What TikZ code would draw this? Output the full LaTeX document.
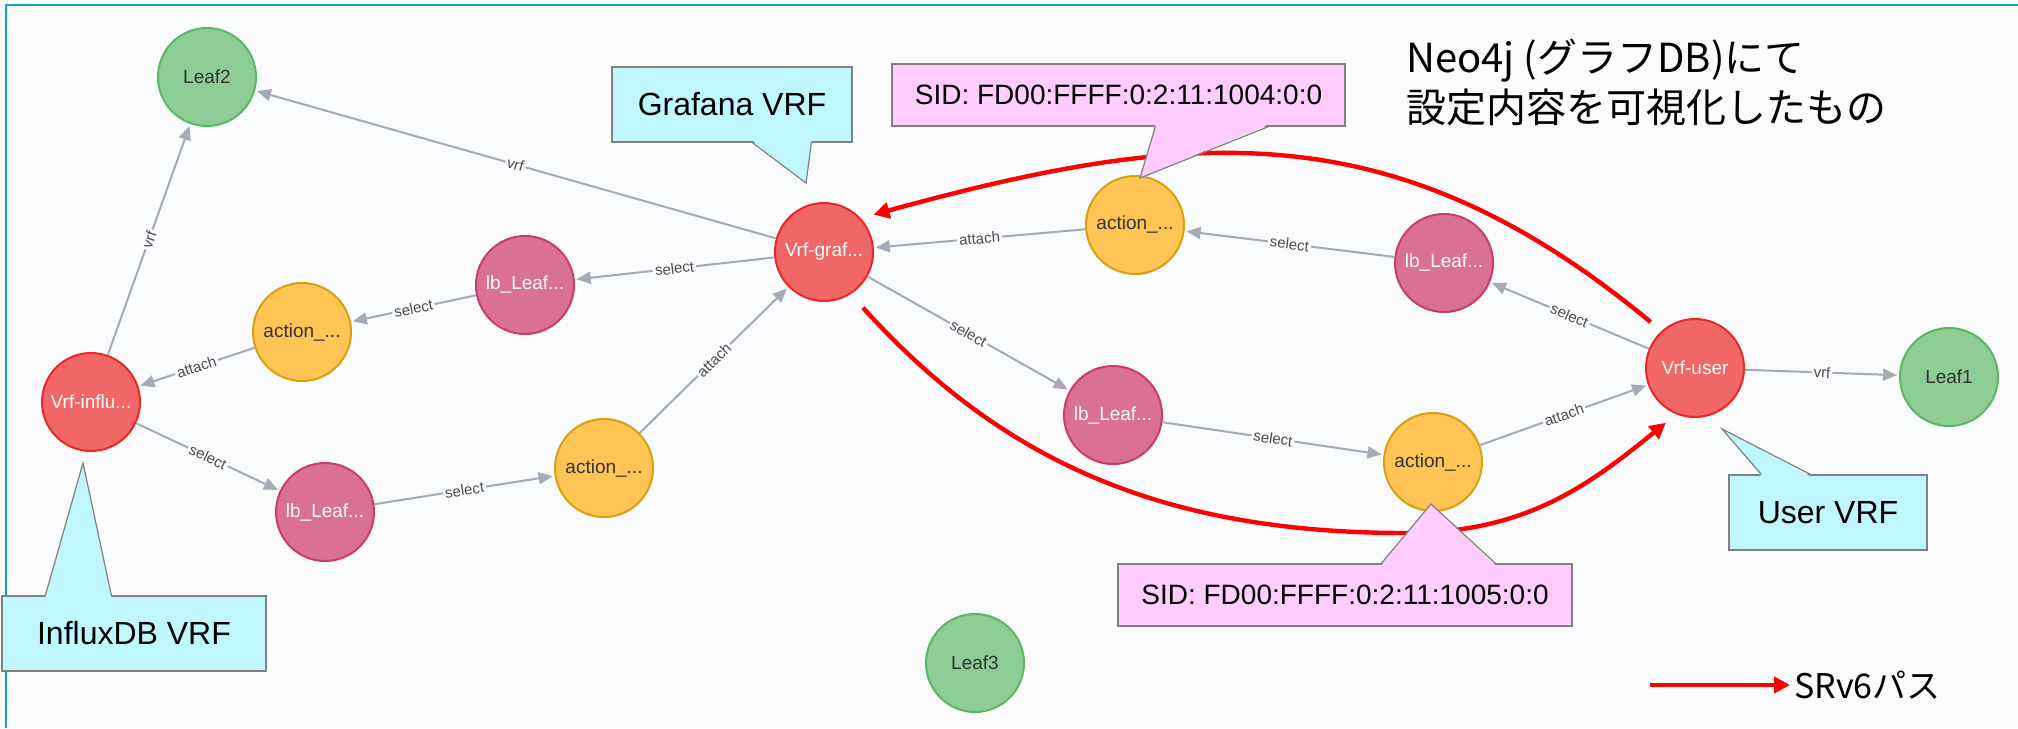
\documentclass[tikz,border=0pt]{standalone}
\usepackage{fontspec}
\setmainfont{Liberation Sans}
\newfontfamily\jpfont{Noto Sans CJK JP}
\usetikzlibrary{calc,arrows.meta}

\definecolor{bgpanel}{RGB}{249,251,253}
\definecolor{framecol}{RGB}{23,165,190}
\definecolor{leaffill}{HTML}{8DCC93}
\definecolor{leafline}{HTML}{5DB665}
\definecolor{vrffill}{HTML}{F16667}
\definecolor{vrfline}{HTML}{EB2728}
\definecolor{lbfill}{HTML}{DA7194}
\definecolor{lbline}{HTML}{CC3C6C}
\definecolor{actfill}{HTML}{FFC454}
\definecolor{actline}{HTML}{D7A013}
\definecolor{relgray}{HTML}{A5ABB6}
\definecolor{cyanfill}{RGB}{192,246,255}
\definecolor{pinkfill}{RGB}{255,204,255}
\definecolor{boxline}{RGB}{128,128,128}

\begin{document}
\begin{tikzpicture}[
  x=0.5pt, y=-0.5pt,
  gnode/.style={circle, line width=1pt, minimum size=49pt, inner sep=0pt, font=\fontsize{9.5}{11}\selectfont},
  leaf/.style={gnode, draw=leafline, fill=leaffill, text=black!80},
  vrf/.style={gnode, draw=vrfline, fill=vrffill, text=white},
  lb/.style={gnode, draw=lbline, fill=lbfill, text=white},
  act/.style={gnode, draw=actline, fill=actfill, text=black!80},
  rel/.style={draw=relgray, line width=1pt, -{Triangle[length=7pt,width=6pt]}, shorten >=1pt},
  rellabel/.style={sloped, fill=bgpanel, inner sep=1pt, text=black!70, font=\fontsize{7.5}{8}\selectfont},
  srv6/.style={draw=red, line width=2.2pt, -{Triangle[length=8pt,width=8pt]}},
  cbox/.style={draw=boxline, line width=0.6pt, inner sep=0pt, font=\fontsize{16}{19}\selectfont},
  cside/.style={draw=boxline, line width=0.6pt}
]
\useasboundingbox (0,0) rectangle (2018,728);
\fill[white] (0,0) rectangle (2018,728);
\fill[bgpanel] (6,5) rectangle (2018,728);
\draw[framecol, line width=1.3pt] (6,728) -- (6,5) -- (2018,5);

% graph nodes
\node[leaf] (leaftwo) at (207,77) {Leaf2};
\node[vrf] (vrfinflux) at (91,402) {Vrf-influ...};
\node[act] (actleft) at (302,332) {action\_...};
\node[lb] (lbleft) at (525,285) {lb\_Leaf...};
\node[vrf] (vrfgraf) at (824,252) {Vrf-graf...};
\node[act] (acttop) at (1135,225) {action\_...};
\node[lb] (lbtop) at (1444,263) {lb\_Leaf...};
\node[vrf] (vrfuser) at (1695,368) {Vrf-user};
\node[leaf] (leafone) at (1949,377) {Leaf1};
\node[lb] (lblow) at (325,512) {lb\_Leaf...};
\node[act] (actlow) at (604,468) {action\_...};
\node[lb] (lbmid) at (1113,415) {lb\_Leaf...};
\node[act] (actmid) at (1433,462) {action\_...};
\node[leaf] (leafthree) at (975,663) {Leaf3};

% relationships
\draw[rel] (vrfinflux) -- node[rellabel] {vrf} (leaftwo);
\draw[rel] (vrfgraf) -- node[rellabel] {vrf} (leaftwo);
\draw[rel] (vrfgraf) -- node[rellabel] {select} (lbleft);
\draw[rel] (lbleft) -- node[rellabel] {select} (actleft);
\draw[rel] (actleft) -- node[rellabel] {attach} (vrfinflux);
\draw[rel] (vrfinflux) -- node[rellabel] {select} (lblow);
\draw[rel] (lblow) -- node[rellabel] {select} (actlow);
\draw[rel] (actlow) -- node[rellabel] {attach} (vrfgraf);
\draw[rel] (acttop) -- node[rellabel] {attach} (vrfgraf);
\draw[rel] (lbtop) -- node[rellabel] {select} (acttop);
\draw[rel] (vrfuser) -- node[rellabel] {select} (lbtop);
\draw[rel] (vrfuser) -- node[rellabel] {vrf} (leafone);
\draw[rel] (vrfgraf) -- node[rellabel] {select} (lbmid);
\draw[rel] (lbmid) -- node[rellabel] {select} (actmid);
\draw[rel] (actmid) -- node[rellabel] {attach} (vrfuser);

% SRv6 paths
\coordinate (top start) at ($(vrfuser)+(134:32pt)$);
\coordinate (top end) at ($(vrfgraf)+(37:31pt)$);
\coordinate (low start) at ($(vrfgraf)+(-55:34pt)$);
\coordinate (low end) at ($(vrfuser)+(242:31pt)$);
\draw[srv6] (top start) .. controls (1396,111) and (1192,127) .. (top end);
\draw[srv6] (low start) .. controls (997,456) and (1155,533) .. (1405,533)
  .. controls (1525,533) and (1588,486) .. (low end);

% title
\node[anchor=west, align=left, inner sep=0pt, font=\jpfont\fontsize{20}{25}\selectfont] (title) at (1406,82)
  {Neo4j (グラフDB)にて\\設定内容を可視化したもの};

% callouts
\node[cbox, fill=cyanfill, minimum width=120pt, minimum height=37.5pt] (grafana) at (732,104.5) {Grafana VRF};
\coordinate (grafana tip) at (806,183);
\fill[cyanfill] ($(grafana.south west)+(141,-2)$) -- (grafana tip) -- ($(grafana.south west)+(200,-2)$) -- cycle;
\draw[cside] ($(grafana.south west)+(141,0)$) -- (grafana tip) -- ($(grafana.south west)+(200,0)$);

\node[cbox, fill=pinkfill, minimum width=226.5pt, minimum height=31pt, font=\fontsize{14}{17}\selectfont] (sidtop) at (1118.5,95) {SID: FD00:FFFF:0:2:11:1004:0:0};
\coordinate (sidtop tip) at (1140,178);
\fill[pinkfill] ($(sidtop.south west)+(264,-2)$) -- (sidtop tip) -- ($(sidtop.south west)+(377,-2)$) -- cycle;
\draw[cside] ($(sidtop.south west)+(264,0)$) -- (sidtop tip) -- ($(sidtop.south west)+(377,0)$);

\node[cbox, fill=cyanfill, minimum width=132pt, minimum height=37.5pt] (influx) at (134,633.5) {InfluxDB VRF};
\coordinate (influx tip) at (83,463);
\fill[cyanfill] ($(influx.north west)+(44,2)$) -- (influx tip) -- ($(influx.north west)+(110,2)$) -- cycle;
\draw[cside] ($(influx.north west)+(44,0)$) -- (influx tip) -- ($(influx.north west)+(110,0)$);

\node[cbox, fill=pinkfill, minimum width=227pt, minimum height=31pt, font=\fontsize{14}{17}\selectfont] (sidlow) at (1345,595) {SID: FD00:FFFF:0:2:11:1005:0:0};
\coordinate (sidlow tip) at (1431,504);
\fill[pinkfill] ($(sidlow.north west)+(264,2)$) -- (sidlow tip) -- ($(sidlow.north west)+(378,2)$) -- cycle;
\draw[cside] ($(sidlow.north west)+(264,0)$) -- (sidlow tip) -- ($(sidlow.north west)+(378,0)$);

\node[cbox, fill=cyanfill, minimum width=99pt, minimum height=37.5pt] (user) at (1828,512.5) {User VRF};
\coordinate (user tip) at (1722,429);
\fill[cyanfill] ($(user.north west)+(33,2)$) -- (user tip) -- ($(user.north west)+(82,2)$) -- cycle;
\draw[cside] ($(user.north west)+(33,0)$) -- (user tip) -- ($(user.north west)+(82,0)$);

% legend
\coordinate (legend start) at (1650,685);
\node[anchor=west, inner sep=2pt, font=\jpfont\fontsize{17}{20}\selectfont] (legend) at (1790,685) {SRv6パス};
\draw[srv6] (legend start) -- (legend start -| legend.west);
\end{tikzpicture}
\end{document}
